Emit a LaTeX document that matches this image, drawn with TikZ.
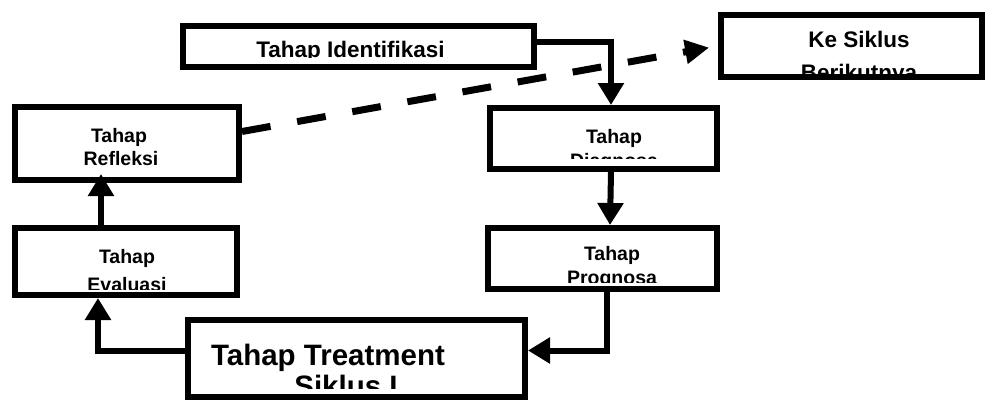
\documentclass[tikz,border=0pt]{standalone}
\usepackage{fontspec}
\setmainfont{Liberation Sans}
\usetikzlibrary{arrows.meta}
\begin{document}
\begin{tikzpicture}[x=1pt,y=-1pt,
  box/.style={draw=black, line width=6pt, rectangle, inner sep=0pt},
  lbl/.style={font=\bfseries\fontsize{19.5}{23}\selectfont, inner sep=0pt, anchor=base},
  lblbig/.style={font=\bfseries\fontsize{22.5}{26}\selectfont, inner sep=0pt, anchor=base},
  lblhuge/.style={font=\bfseries\fontsize{29.5}{33}\selectfont, inner sep=0pt, anchor=base},
  arr/.style={draw=black, line width=6pt, line join=miter, -{Triangle[length=22pt,width=25pt]}},
  dasharr/.style={draw=black, line width=7pt, dash pattern=on 29pt off 27pt, -{Triangle[length=24pt,width=23pt]}}
]
\useasboundingbox (0,0) rectangle (985,412);
\fill[white] (0,0) rectangle (985,412);

% box frames (text-less nodes)
\node[box, minimum width=351pt, minimum height=41pt] (ident) at (358.5,46.5) {};
\node[box, minimum width=261pt, minimum height=62pt] (ke) at (851.5,46) {};
\node[box, minimum width=224pt, minimum height=73pt] (refl) at (127,143.5) {};
\node[box, minimum width=227pt, minimum height=61pt] (diag) at (603.5,138.5) {};
\node[box, minimum width=222pt, minimum height=67pt] (eval) at (126,261.5) {};
\node[box, minimum width=229pt, minimum height=61pt] (prog) at (602.5,258.5) {};
\node[box, minimum width=337pt, minimum height=77pt] (treat) at (356.5,358.5) {};

% texts, clipped to the text areas inside the frames
\begin{scope}
\clip (189,30) rectangle (528,57.8);
\node[lblbig] (identA) at (350.5,58) {Tahap Identifikasi};
\end{scope}
\begin{scope}
\clip (727,20) rectangle (976,73.5);
\node[lblbig] (keA) at (859,48) {Ke Siklus};
\node[lblbig] (keB) at (859,81) {Berikutnya};
\end{scope}
\begin{scope}
\clip (21,112) rectangle (233,174);
\node[lbl] (reflA) at (119,142) {Tahap};
\node[lbl] (reflB) at (121,165) {Refleksi};
\end{scope}
\begin{scope}
\clip (496,113) rectangle (711,158);
\node[lbl] (diagA) at (614,143) {Tahap};
\node[lbl] (diagB) at (614,167) {Diagnosa};
\end{scope}
\begin{scope}
\clip (21,233) rectangle (231,289);
\node[lbl] (evalA) at (127,263) {Tahap};
\node[lbl] (evalB) at (127,291) {Evaluasi};
\end{scope}
\begin{scope}
\clip (494,233) rectangle (711,282);
\node[lbl] (progA) at (612,260) {Tahap};
\node[lbl] (progB) at (612,284.5) {Prognosa};
\end{scope}
\begin{scope}
\clip (194,325) rectangle (519,388);
\node[lblhuge] (treatA) at (328,365) {Tahap Treatment};
\node[lblhuge] (treatB) at (346,396) {Siklus I};
\end{scope}

% connectors
\draw[arr] ([yshift=4pt]ident.east) -| ([xshift=7.5pt]diag.north);
\draw[arr] ([xshift=7.5pt]diag.south) -- ([xshift=7.5pt]prog.north);
\draw[arr] ([xshift=4pt]prog.south) |- ([yshift=8pt]treat.east);
\draw[arr] ([yshift=8pt]treat.west) -| ([xshift=-28pt]eval.south);
\draw[arr, shorten >=-9pt] ([xshift=-25pt]eval.north) -- ([xshift=-26pt]refl.south);
\draw[dasharr, shorten >=9pt] ([yshift=12pt]refl.east) -- (ke.west);
\end{tikzpicture}
\end{document}
